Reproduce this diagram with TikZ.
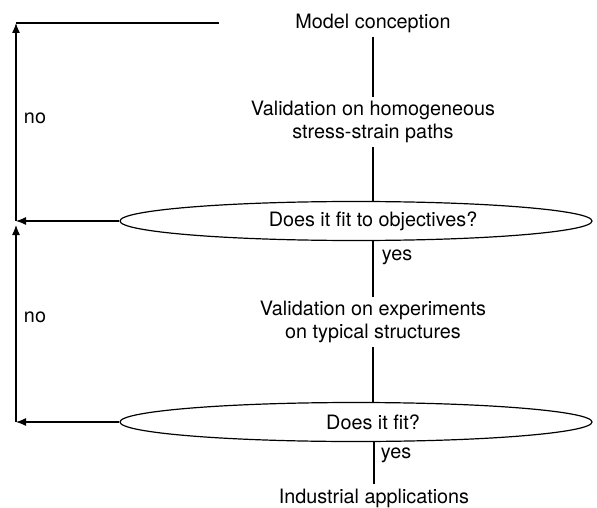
\documentclass[tikz,border=0pt]{standalone}
\usepackage{fontspec}
\setmainfont{TeX Gyre Heros}
\usetikzlibrary{shapes.geometric,arrows.meta}
\begin{document}
\begin{tikzpicture}[x=0.5pt,y=-0.5pt,line width=0.6pt,
  txt/.style={align=center,inner sep=2pt,font=\fontsize{9.9}{11.5}\selectfont},
  fitbox/.style={ellipse,draw,minimum width=236pt,minimum height=19.5pt,inner sep=0pt},
  flow/.style={-{Latex[length=5pt,width=4pt]}}]
\useasboundingbox (0,0) rectangle (597,507);
\node[txt] (model) at (373,23){Model conception};
\node[txt] (valid1) at (373,122){Validation on homogeneous\\stress-strain paths};
\node[fitbox] (fit1) at (356,221){};
\node[txt] (q1) at (373,221){Does it fit to objectives?};
\node[txt] (yes1) at (397,257){yes};
\node[txt] (valid2) at (373,322){Validation on experiments\\on typical structures};
\node[fitbox] (fit2) at (356,422){};
\node[txt] (q2) at (373,422){Does it fit?};
\node[txt] (yes2) at (396,455){yes};
\node[txt] (indus) at (374,498){Industrial applications};
\node[txt] (no1) at (35,118){no};
\node[txt] (no2) at (35,317){no};
\coordinate (c0) at (16,23);
\coordinate (e0) at (219,23);
\coordinate (c1) at (16,221);
\coordinate (c2) at (16,422);
\coordinate (c3) at (16,225);
\draw[](model) -- (valid1);
\draw[](valid1.south) -- (valid1.south |- fit1.north);
\draw[](valid2.north |- fit1.south) -- (valid2.north);
\draw[](valid2.south) -- (valid2.south |- fit2.north);
\draw[](indus.north |- fit2.south) -- (indus.north);
\draw[flow](fit1.west) -- (c1);
\draw[flow](c1) -- (c0);
\draw[](c0) -- (e0);
\draw[flow](fit2.west) -- (c2);
\draw[flow](c2) -- (c3);
\end{tikzpicture}
\end{document}
